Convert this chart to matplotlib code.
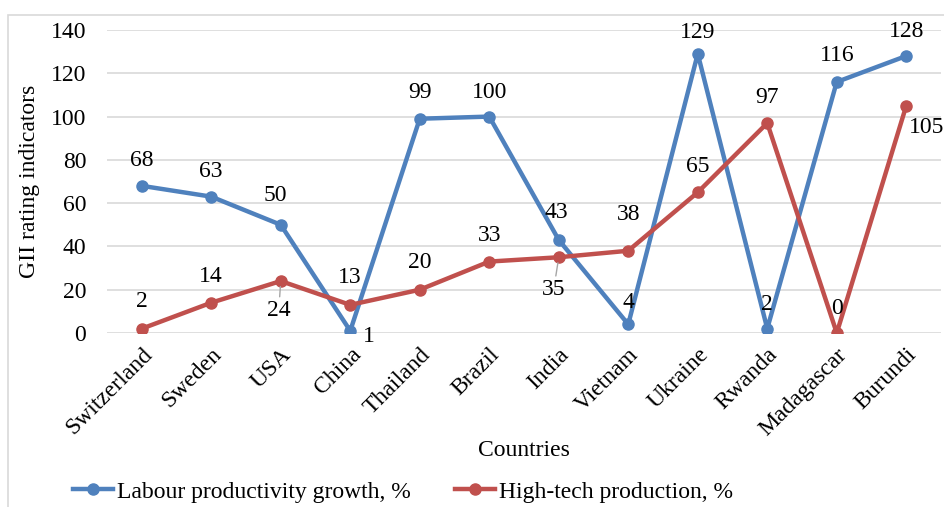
import matplotlib
matplotlib.use("Agg")
import matplotlib.pyplot as plt
from matplotlib.patches import Rectangle

# data
countries = ['Switzerland', 'Sweden', 'USA', 'China', 'Thailand', 'Brazil',
             'India', 'Vietnam', 'Ukraine', 'Rwanda', 'Madagascar', 'Burundi']
labour = [68, 63, 50, 1, 99, 100, 43, 4, 129, 2, 116, 128]
hightech = [2, 14, 24, 13, 20, 33, 35, 38, 65, 97, 0, 105]

# label offsets in pixels (dx, dy)
labour_off = [(0, 25), (0, 25), (-5, 29), (19, -6), (0, 26), (0, 24),
              (-2, 27), (0, 22), (0, 21), (0, 24), (0, 26), (0, 24)]
hightech_off = [(0, 27), (0, 26), (-2, -29), (-1, 27), (0, 27), (0, 26),
                (-5, -32), (0, 36), (0, 26), (0, 26), (0, 25), (20, -22)]
leader = [False, False, True, False, False, False, True, False, False, False, False, False]

blue, red = '#4F81BD', '#C0504D'
plt.rcParams['font.family'] = ['Liberation Serif', 'DejaVu Serif']
fs = 17

fig = plt.figure(figsize=(9.45, 5.07), dpi=100)
ax = fig.add_axes([107 / 945, 1 - 333 / 507, (941 - 107) / 945, (333 - 30) / 507])

x = list(range(len(countries)))
ax.plot(x, labour, color=blue, lw=3.2, marker='o', ms=8, label='Labour productivity growth, %', zorder=3)
ax.plot(x, hightech, color=red, lw=3.2, marker='o', ms=8, label='High-tech production, %', zorder=3)

for i, v in enumerate(labour):
    ax.annotate(str(v), (i, v), xytext=labour_off[i], textcoords='offset pixels',
                ha='center', va='center', fontsize=fs, annotation_clip=False)
for i, v in enumerate(hightech):
    kw = {}
    if leader[i]:
        kw['arrowprops'] = dict(arrowstyle='-', color='#A6A6A6', lw=1, shrinkA=0, shrinkB=4)
    ax.annotate(str(v), (i, v), xytext=hightech_off[i], textcoords='offset pixels',
                ha='center', va='center', fontsize=fs, annotation_clip=False, **kw)

ax.set_xlim(-0.5, len(countries) - 0.5)
ax.set_ylim(0, 140)
ax.set_yticks(range(0, 141, 20))
ax.set_xticks(x)
ax.set_xticklabels(countries, rotation=45, ha='right', rotation_mode='anchor', fontsize=fs)
ax.tick_params(axis='y', labelsize=fs, length=0, pad=15)
ax.tick_params(axis='x', length=0, pad=8)
ax.grid(axis='y', color='#D9D9D9', lw=1.2)
ax.set_axisbelow(True)
for s in ax.spines.values():
    s.set_visible(False)
ax.set_ylabel('GII rating indicators', fontsize=fs, labelpad=8)
ax.set_xlabel('Countries', fontsize=fs, labelpad=0)

fig.legend(loc='center', bbox_to_anchor=(403 / 945, 1 - 492 / 507), ncol=2, frameon=False,
           fontsize=fs, handlelength=1.7, handletextpad=0.15, columnspacing=1.9)

fig.add_artist(Rectangle((8 / 945, -0.1), 1.2, 1.1 - 15 / 507, transform=fig.transFigure,
                         fill=False, edgecolor='#D9D9D9', lw=1.2))

fig.savefig('out.png', dpi=100)
